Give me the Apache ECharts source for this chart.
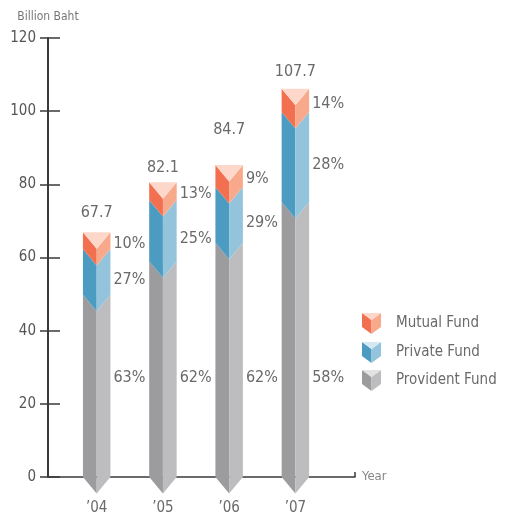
<!DOCTYPE html>
<html>
<head>
<meta charset="utf-8">
<script src="https://cdn.jsdelivr.net/npm/echarts@6/dist/echarts.min.js"></script>
<style>
  html, body { margin: 0; padding: 0; background: #fff; }
  #main { width: 508px; height: 517px; }
</style>
</head>
<body>
<div id="main"></div>
<script>
// categories
const years = ['\u201904', '\u201905', '\u201906', '\u201907'];
// totals shown above the bars (billion baht)
const totals = [67.7, 82.1, 84.7, 107.7];
// segment heights as drawn in the picture (billion baht)
const provident = [49.8, 59.0, 64.0, 75.2];
const privateFund = [12.5, 16.7, 15.3, 24.6];
const mutual = [4.6, 4.9, 6.0, 6.3];
// share labels
const providentPct = ['63%', '62%', '62%', '58%'];
const privatePct = ['27%', '25%', '29%', '28%'];
const mutualPct = ['10%', '13%', '9%', '14%'];
// y axis
const yMin = 0, yMax = 120, yStep = 20;

const FONT = '"Liberation Sans Narrow", "DejaVu Sans Condensed", "Roboto", sans-serif';
const TXT = '#6a6a6a';

// how far the total label sits above the bar top (px)
const totalLift = [19, 14, 35, 17];

const colors = {
  mutual: { left: '#f2704f', right: '#f9a98b', top: '#fdd8ca' },
  private: { left: '#4c9bc1', right: '#93c4dc', top: '#d3e8f2' },
  provident: { left: '#9c9c9e', right: '#bdbdbf', top: '#e2e2e3' }
};

// cumulative bases
const base1 = provident.slice();
const base2 = provident.map((v, i) => v + privateFund[i]);

function segRender(col, labels, kind) {
  return function (params, api) {
    const i = api.value(0);
    const b = api.value(1);
    const t = api.value(2);
    const pT = api.coord([i, t]);
    const pB = api.coord([i, b]);
    const w = api.size([1, 0])[0] * 0.415;
    const h = w / 2;
    const d = w * 0.6;
    const xl = pT[0] - h, xc = pT[0], xr = pT[0] + h;
    const children = [
      { type: 'polygon', shape: { points: [[xl, pT[1]], [xc, pT[1] + d], [xc, pB[1] + d], [xl, pB[1]]] }, style: { fill: col.left } },
      { type: 'polygon', shape: { points: [[xc, pT[1] + d], [xr, pT[1]], [xr, pB[1]], [xc, pB[1] + d]] }, style: { fill: col.right } }
    ];
    let ly;
    if (kind === 'provident') ly = api.coord([i, 27])[1];
    else if (kind === 'private') ly = (pT[1] + pB[1]) / 2 + d / 2;
    else ly = (pT[1] + pB[1]) / 2 + 3;
    children.push({
      type: 'text',
      style: { x: xr + 3, y: ly, text: labels[params.dataIndex], fill: TXT, font: '16px ' + FONT, align: 'left', verticalAlign: 'middle' }
    });
    if (kind === 'mutual') {
      children.push({ type: 'polygon', shape: { points: [[xl, pT[1]], [xr, pT[1]], [xc, pT[1] + d]] }, style: { fill: col.top } });
      const idx = params.dataIndex;
      children.push({
        type: 'text',
        style: { x: xc, y: pT[1] - totalLift[idx], text: totals[idx].toFixed(1), fill: TXT, font: '16px ' + FONT, align: 'center', verticalAlign: 'middle' }
      });
    }
    return { type: 'group', children: children };
  };
}

function legendItem(top, col, text) {
  const W = 19, H = 14, D = 7;
  return {
    type: 'group', left: 362, top: top,
    children: [
      { type: 'polygon', shape: { points: [[0, 0], [W / 2, D], [W / 2, H + D], [0, H]] }, style: { fill: col.left } },
      { type: 'polygon', shape: { points: [[W / 2, D], [W, 0], [W, H], [W / 2, H + D]] }, style: { fill: col.right } },
      { type: 'polygon', shape: { points: [[0, 0], [W, 0], [W / 2, D]] }, style: { fill: col.top } },
      { type: 'text', x: 34, y: 10, style: { text: text, fill: TXT, font: '15px ' + FONT, verticalAlign: 'middle' } }
    ]
  };
}

const chart = echarts.init(document.getElementById('main'));
const option = {
  animation: false,
  grid: { left: 48, right: 153, top: 38, bottom: 40 },
  xAxis: {
    type: 'value', min: -0.735, max: 3.9,
    splitLine: { show: false },
    axisLine: { show: true, onZero: false, lineStyle: { color: '#3a3a3a', width: 1.5 } },
    axisTick: { show: true, inside: true, length: 5, customValues: [3.9], lineStyle: { color: '#3a3a3a', width: 1.5 } },
    axisLabel: { customValues: [0, 1, 2, 3], formatter: v => years[Math.round(v)], margin: 24, color: TXT, fontSize: 15, fontFamily: FONT },
    name: 'Year', nameLocation: 'end', nameGap: 7,
    nameTextStyle: { color: '#888', fontSize: 13, fontFamily: FONT, padding: [0, 0, 8, 0] }
  },
  yAxis: [
    {
      type: 'value', min: yMin, max: yMax, interval: yStep, position: 'left',
      splitLine: { show: false },
      axisLine: { show: true, onZero: false, lineStyle: { color: '#3a3a3a', width: 2 } },
      axisTick: { show: true, length: 8, lineStyle: { color: '#3a3a3a', width: 1.5 } },
      axisLabel: { margin: 12, color: '#555', fontSize: 15, fontFamily: FONT },
      name: 'Billion Baht', nameLocation: 'end', nameGap: 15,
      nameTextStyle: { color: '#777', fontSize: 12, fontFamily: FONT, align: 'center' }
    },
    {
      type: 'value', min: yMin, max: yMax, interval: yStep, position: 'left', offset: 0,
      splitLine: { show: false },
      axisLine: { show: false, onZero: false },
      axisTick: { show: true, inside: true, length: 12, lineStyle: { color: '#3a3a3a', width: 1.5 } },
      axisLabel: { show: false }
    }
  ],
  series: [
    {
      type: 'custom', name: 'Provident Fund',
      renderItem: segRender(colors.provident, providentPct, 'provident'),
      encode: { x: 0, y: [1, 2] },
      data: provident.map((v, i) => [i, 0, v])
    },
    {
      type: 'custom', name: 'Private Fund',
      renderItem: segRender(colors.private, privatePct, 'private'),
      encode: { x: 0, y: [1, 2] },
      data: privateFund.map((v, i) => [i, base1[i], base1[i] + v])
    },
    {
      type: 'custom', name: 'Mutual Fund',
      renderItem: segRender(colors.mutual, mutualPct, 'mutual'),
      encode: { x: 0, y: [1, 2] },
      data: mutual.map((v, i) => [i, base2[i], base2[i] + v])
    }
  ],
  graphic: [
    legendItem(313, colors.mutual, 'Mutual Fund'),
    legendItem(342, colors.private, 'Private Fund'),
    legendItem(370, colors.provident, 'Provident Fund')
  ]
};
chart.setOption(option);
</script>
</body>
</html>
